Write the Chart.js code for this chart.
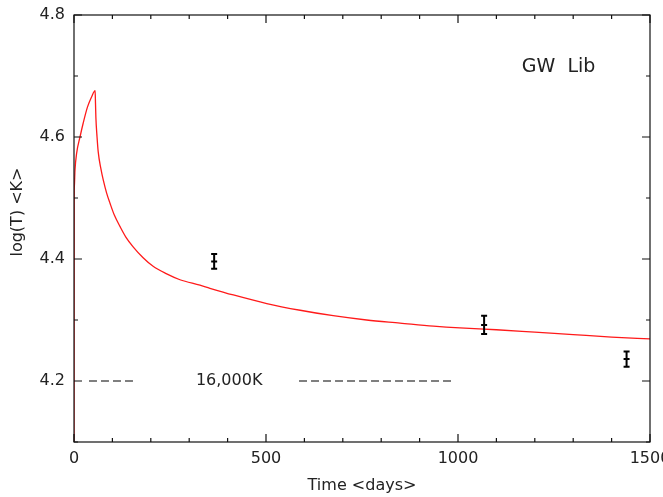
<!DOCTYPE html>
<html>
<head>
<meta charset="utf-8">
<script src="https://cdn.jsdelivr.net/npm/chart.js@4"></script>
<style>
  html, body { margin: 0; padding: 0; background: #fff; }
  #wrap { width: 663px; height: 497px; }
</style>
</head>
<body>
<div id="wrap"><canvas id="lcChart"></canvas></div>
<script>
// model light curve (days, log T)
const curveX = [0, 0.2, 0.5, 1, 2.6, 7, 15.6, 24, 35, 46, 55, 56, 57, 60, 63, 70, 76, 85, 94, 105, 120, 135, 154, 180, 206, 240, 276, 328, 354, 415, 502, 589, 675, 762, 849, 936, 1005, 1100, 1200, 1300, 1400, 1500];
const curveY = [4.1, 4.3, 4.5, 4.52, 4.546, 4.574, 4.6, 4.623, 4.649, 4.666, 4.676, 4.655, 4.632, 4.6, 4.576, 4.548, 4.53, 4.508, 4.491, 4.472, 4.453, 4.436, 4.42, 4.402, 4.388, 4.376, 4.366, 4.357, 4.352, 4.341, 4.327, 4.316, 4.307, 4.3, 4.295, 4.29, 4.287, 4.284, 4.28, 4.276, 4.272, 4.269];

// observed temperatures with errors
const obsX = [365, 1068, 1439];
const obsY = [4.396, 4.292, 4.236];
const obsErr = [0.012, 0.015, 0.0125];

// 16,000K reference line pieces
const refY = 4.2;
const refSeg1 = [39, 159];
const refSeg2 = [586, 992];

const xTicks = [0, 500, 1000, 1500];
const xMinorTicks = [100, 200, 300, 400, 600, 700, 800, 900, 1100, 1200, 1300, 1400];
const yTicks = [4.2, 4.4, 4.6, 4.8];
const yMinorTicks = [4.1, 4.3, 4.5, 4.7];

const FONT = "'DejaVu Sans', sans-serif";

const curveData = curveX.map((x, i) => ({ x: x, y: curveY[i] }));

const framePlugin = {
  id: "frame",
  afterDatasetsDraw(chart) {
    const { ctx, chartArea: a, scales } = chart;
    const xs = scales.x, ys = scales.y;
    ctx.save();

    // error bars
    ctx.strokeStyle = "#000";
    ctx.lineWidth = 2;
    for (let i = 0; i < obsX.length; i++) {
      const px = xs.getPixelForValue(obsX[i]);
      const py = ys.getPixelForValue(obsY[i]);
      const top = ys.getPixelForValue(obsY[i] + obsErr[i]);
      const bot = ys.getPixelForValue(obsY[i] - obsErr[i]);
      ctx.beginPath();
      ctx.moveTo(px, top); ctx.lineTo(px, bot);
      ctx.moveTo(px - 3, top); ctx.lineTo(px + 3, top);
      ctx.moveTo(px - 3, bot); ctx.lineTo(px + 3, bot);
      ctx.moveTo(px - 3, py); ctx.lineTo(px + 3, py);
      ctx.stroke();
    }

    // frame and inward ticks
    ctx.strokeStyle = "#111";
    ctx.lineWidth = 1.2;
    ctx.strokeRect(a.left, a.top, a.right - a.left, a.bottom - a.top);
    ctx.beginPath();
    const xt = (v, len) => {
      const p = xs.getPixelForValue(v);
      ctx.moveTo(p, a.bottom); ctx.lineTo(p, a.bottom - len);
      ctx.moveTo(p, a.top); ctx.lineTo(p, a.top + len);
    };
    const yt = (v, len) => {
      const p = ys.getPixelForValue(v);
      ctx.moveTo(a.left, p); ctx.lineTo(a.left + len, p);
      ctx.moveTo(a.right, p); ctx.lineTo(a.right - len, p);
    };
    xTicks.forEach(v => xt(v, 8));
    xMinorTicks.forEach(v => xt(v, 4));
    yTicks.forEach(v => yt(v, 8));
    yMinorTicks.forEach(v => yt(v, 4));
    ctx.stroke();

    // labels
    ctx.fillStyle = "#222";
    ctx.textAlign = "center";
    ctx.textBaseline = "middle";
    ctx.font = "16px " + FONT;
    ctx.fillText("16,000K", xs.getPixelForValue(404), ys.getPixelForValue(refY));
    ctx.font = "19px " + FONT;
    ctx.fillText("GW  Lib", xs.getPixelForValue(1262), ys.getPixelForValue(4.715));
    ctx.font = "16px " + FONT;
    ctx.fillText("Time <days>", (a.left + a.right) / 2, 486);
    ctx.translate(18, 212);
    ctx.rotate(-Math.PI / 2);
    ctx.fillText("log(T) <K>", 0, 0);
    ctx.restore();
  }
};

const ctx = document.getElementById("lcChart").getContext("2d");
new Chart(ctx, {
  type: "line",
  data: {
    datasets: [
      {
        data: curveData,
        borderColor: "#ff1a1a",
        borderWidth: 1.3,
        pointRadius: 0,
        cubicInterpolationMode: "monotone",
        fill: false
      },
      {
        data: refSeg1.map(x => ({ x: x, y: refY })),
        borderColor: "#555",
        borderWidth: 1.5,
        borderDash: [8, 4],
        pointRadius: 0
      },
      {
        data: refSeg2.map(x => ({ x: x, y: refY })),
        borderColor: "#555",
        borderWidth: 1.5,
        borderDash: [8, 4],
        pointRadius: 0
      }
    ]
  },
  options: {
    responsive: true,
    maintainAspectRatio: false,
    animation: false,
    layout: { padding: { top: 15, right: 13, left: 0, bottom: 0 } },
    plugins: { legend: { display: false }, tooltip: { enabled: false } },
    scales: {
      x: {
        type: "linear",
        min: 0,
        max: 1500,
        grid: { display: false, drawTicks: false },
        border: { display: false },
        afterBuildTicks: s => { s.ticks = xTicks.map(v => ({ value: v })); },
        afterFit: s => { s.height = 55; s.paddingLeft = 0; s.paddingRight = 0; },
        ticks: {
          color: "#222",
          padding: 7,
          maxRotation: 0,
          font: { family: FONT, size: 16 },
          callback: v => String(v)
        }
      },
      y: {
        type: "linear",
        min: 4.1,
        max: 4.8,
        grid: { display: false, drawTicks: false },
        border: { display: false },
        afterBuildTicks: s => { s.ticks = yTicks.map(v => ({ value: v })); },
        afterFit: s => { s.width = 74; s.paddingTop = 0; s.paddingBottom = 0; },
        ticks: {
          color: "#222",
          padding: 9,
          font: { family: FONT, size: 16 },
          callback: v => v.toFixed(1)
        }
      }
    }
  },
  plugins: [framePlugin]
});
</script>
</body>
</html>
